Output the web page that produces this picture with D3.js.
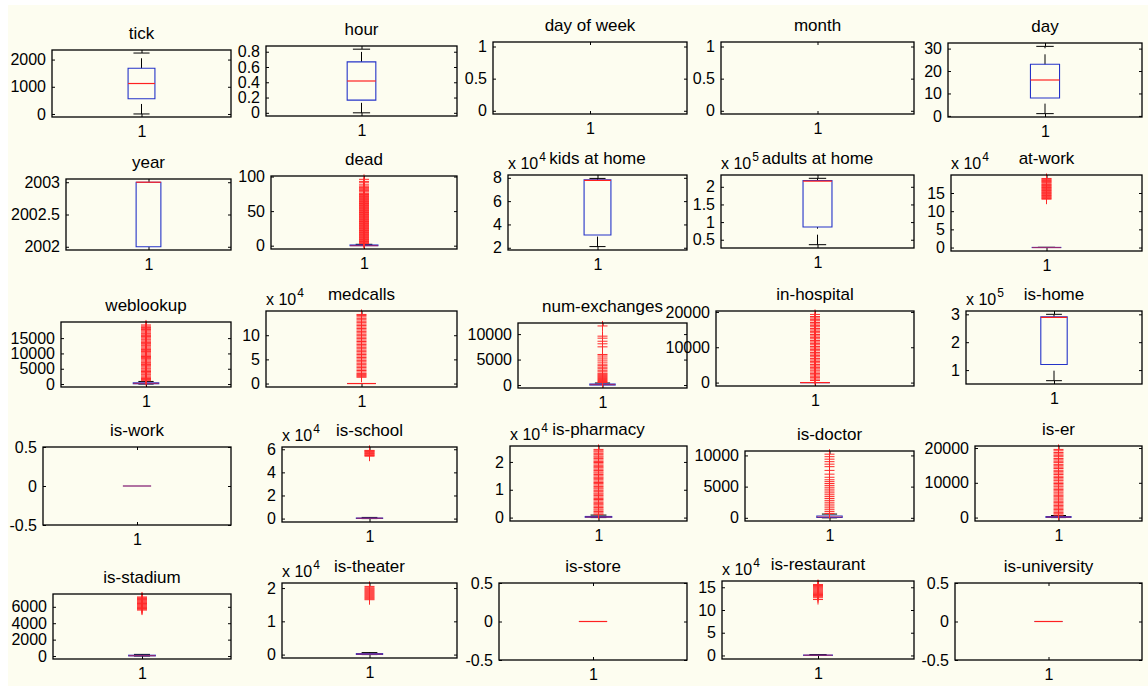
<!DOCTYPE html>
<html>
<head>
<meta charset="utf-8">
<script src="https://cdn.jsdelivr.net/npm/d3@7"></script>
<style>
  html, body { margin: 0; padding: 0; background: #ffffff; }
  svg { display: block; }
</style>
</head>
<body>
<svg id="fig" width="1148" height="686"></svg>
<script>
// ---- data: one boxplot per variable ------------------------------------
const panelTitles = [
  "tick", "hour", "day of week", "month", "day",
  "year", "dead", "kids at home", "adults at home", "at-work",
  "weblookup", "medcalls", "num-exchanges", "in-hospital", "is-home",
  "is-work", "is-school", "is-pharmacy", "is-doctor", "is-er",
  "is-stadium", "is-theater", "is-store", "is-restaurant", "is-university"
];

// power of ten shown as "x 10^n" above the y axis (0 = none)
const yExponents = [
  0, 0, 0, 0, 0,
  0, 0, 4, 5, 4,
  0, 4, 0, 0, 5,
  0, 4, 4, 0, 0,
  0, 4, 0, 4, 0
];

const lowerWhiskers = [
  1, 0, null, null, 1,
  2002, 0, 21000, 36000, 0,
  0, 0, 0, 0, 62000,
  0, 0, 0, 0, 0,
  0, 0, 0, 0, 0
];
const firstQuartiles = [
  560, 0.1667, null, null, 8,
  2002, 0, 31000, 86000, 0,
  100, 0, 0, 0, 120000,
  0, 100, 100, 50, 50,
  20, 50, 0, 200, 0
];
const medians = [
  1120, 0.4167, null, null, 16,
  2003, 0, 77800, 216000, 0,
  200, 0, 100, 0, 289000,
  0, 300, 200, 150, 150,
  50, 150, 0, 500, 0
];
const thirdQuartiles = [
  1680, 0.6667, null, null, 23,
  2003, 1, 78200, 218000, 300,
  400, 0, 200, 0, 291000,
  0, 500, 400, 300, 300,
  100, 300, 0, 900, 0
];
const upperWhiskers = [
  2240, 0.8333, null, null, 31,
  2003, 2, 79500, 224000, 700,
  850, 0, 400, 0, 300000,
  0, 1000, 900, 600, 600,
  200, 600, 0, 2000, 0
];

const deadOutliers = [3, 4, 5, 6, 7, 8, 9, 10, 11, 12, 13, 14, 15, 16, 17, 18, 19, 20, 21, 22, 23, 24, 25, 26, 27, 28, 29, 30, 31, 32, 33, 34, 35, 36, 37, 38, 39, 40, 41, 42, 43, 44, 45, 46, 47, 48, 49, 50, 51, 52, 53, 54, 55, 56, 57, 58, 59, 60, 61, 62, 63, 64, 65, 66, 67, 68, 69, 70, 71, 72, 73, 74, 75, 76, 78, 80, 81, 83, 84, 86, 88, 91, 93, 96];
const atWorkOutliers = [133000, 135000, 137000, 139000, 141000, 143000, 145000, 147000, 149000, 151000, 153000, 155000, 157000, 159000, 161000, 163000, 165000, 167000, 169000, 171000, 173000, 175000, 178000, 180000, 182000, 184000, 186000, 188000, 190000];
const weblookupOutliers = [1100, 1500, 1800, 2200, 2600, 3000, 3300, 3700, 4100, 4500, 4900, 5200, 5600, 6000, 6400, 6800, 7100, 7500, 7900, 8300, 8700, 9000, 9400, 9800, 10200, 10600, 10900, 11300, 11700, 12100, 12500, 12800, 13200, 13600, 14000, 14400, 14700, 15100, 15500, 15900, 16300, 16600, 17000, 17400, 17800, 18200, 18500, 18900, 19300];
const medcallsOutliers = [13000, 15000, 17000, 19000, 21000, 24000, 27000, 30000, 33000, 36000, 39000, 42000, 45000, 48000, 51000, 54000, 57000, 60000, 63000, 66000, 69000, 72000, 75000, 78000, 81000, 84000, 87000, 90000, 93000, 96000, 99000, 102000, 105000, 108000, 111000, 114000, 117000, 120000, 123000, 126000, 129000, 132000, 135000, 138000, 141000, 143000];
const exchangesOutliers = [500, 700, 900, 1100, 1300, 1500, 1700, 1900, 2100, 2300, 2600, 2900, 3200, 3500, 3800, 4100, 4500, 4900, 5300, 5700, 6000, 7500, 8100, 8600, 9200, 9600, 11600];
const hospitalOutliers = [600, 1000, 1400, 1800, 2200, 2600, 3000, 3500, 3900, 4300, 4700, 5100, 5600, 6000, 6400, 6800, 7300, 7700, 8100, 8500, 9000, 9400, 9800, 10200, 10700, 11100, 11500, 11900, 12400, 12800, 13200, 13600, 14100, 14500, 14900, 15300, 15800, 16200, 16600, 17000, 17500, 17900, 18300, 18700, 19300];
const schoolOutliers = [54000, 54600, 55200, 55800, 56400, 57000, 57600, 58200, 58600, 59000];
const pharmacyOutliers = [1200, 1700, 2200, 2700, 3100, 3600, 4100, 4600, 5000, 5500, 6000, 6500, 6900, 7400, 7900, 8400, 8800, 9300, 9800, 10300, 10700, 11200, 11700, 12200, 12600, 13100, 13600, 14100, 14500, 15000, 15500, 16000, 16400, 16900, 17400, 17900, 18300, 18800, 19300, 19800, 20200, 20700, 21200, 21700, 22100, 22600, 23100, 23600, 24000, 24500];
const doctorOutliers = [700, 1000, 1300, 1600, 1900, 2200, 2500, 2800, 3100, 3400, 3700, 4000, 4300, 4600, 4900, 5200, 5500, 5800, 6100, 6500, 7000, 7600, 8200, 8600, 9000, 9400, 9800, 10200];
const erOutliers = [700, 1100, 1500, 1900, 2300, 2700, 3100, 3500, 3900, 4300, 4700, 5100, 5600, 6000, 6400, 6800, 7300, 7700, 8100, 8500, 9000, 9400, 9800, 10200, 10700, 11100, 11500, 11900, 12400, 12800, 13200, 13600, 14100, 14500, 14900, 15300, 15800, 16200, 16600, 17000, 17500, 17900, 18300, 18700, 19200, 19600];
const stadiumOutliers = [5600, 5700, 5800, 5900, 6000, 6100, 6200, 6300, 6400, 6500, 6600, 6700, 6800, 6900, 7000, 7100, 7200];
const theaterOutliers = [16500, 16800, 17100, 17400, 17700, 18000, 18300, 18600, 18900, 19200, 19500, 19800, 20100, 20500];
const restaurantOutliers = [123000, 127000, 130000, 132000, 134000, 136000, 138000, 140000, 142000, 144000, 146000, 148000, 150000, 152000, 154000, 156000];

const outlierValues = [
  [], [], [], [], [],
  [], deadOutliers, [], [], atWorkOutliers,
  weblookupOutliers, medcallsOutliers, exchangesOutliers, hospitalOutliers, [],
  [], schoolOutliers, pharmacyOutliers, doctorOutliers, erOutliers,
  stadiumOutliers, theaterOutliers, [], restaurantOutliers, []
];

// y tick labels, in the units printed on the axis
const yTicks = [
  [0, 1000, 2000], [0, 0.2, 0.4, 0.6, 0.8], [0, 0.5, 1], [0, 0.5, 1], [0, 10, 20, 30],
  [2002, 2002.5, 2003], [0, 50, 100], [2, 4, 6, 8], [0.5, 1, 1.5, 2], [0, 5, 10, 15],
  [0, 5000, 10000, 15000], [0, 5, 10], [0, 5000, 10000], [0, 10000, 20000], [1, 2, 3],
  [-0.5, 0, 0.5], [0, 2, 4, 6], [0, 1, 2], [0, 5000, 10000], [0, 10000, 20000],
  [0, 2000, 4000, 6000], [0, 1, 2], [-0.5, 0, 0.5], [0, 5, 10, 15], [-0.5, 0, 0.5]
];
const xTickLabels = [1];

// ---- layout: plot-box edges [left, right, top, bottom] in pixels ----------
const panelFrames = [
  [52, 231, 50, 117], [266, 457, 46, 116], [493, 687, 42, 114], [721, 914, 42, 114], [948, 1142, 43, 117],
  [66, 231, 179, 250], [271, 457, 176, 249], [508, 687, 175, 250], [721, 914, 175, 248], [951, 1142, 175, 251],
  [61, 231, 322, 387], [266, 457, 311, 387], [518, 687, 323, 388], [716, 914, 311, 386], [966, 1142, 311, 384],
  [43, 231, 447, 525], [282, 457, 447, 522], [510, 687, 446, 521], [745, 914, 451, 521], [975, 1142, 446, 521],
  [53, 231, 594, 659], [282, 457, 583, 658], [499, 687, 583, 660], [722, 914, 581, 659], [955, 1142, 583, 660]
];

const FONT = "'Liberation Sans', Arial, Helvetica, sans-serif";
const IVORY = "#fdfdf0";
const BOX_BLUE = "#2433c8";
const MEDIAN_RED = "#ff2020";
const OUTLIER_RED = "#ff2a2a";
// panels whose flat box shows the blue outline blended through the median
const blendedMedianPanels = new Set(["is-work"]);

const svg = d3.select("#fig").attr("font-family", FONT);
svg.append("rect").attr("width", 1148).attr("height", 686).attr("fill", "#ffffff");
svg.append("rect").attr("x", 8).attr("y", 5).attr("width", 1140).attr("height", 681).attr("fill", IVORY);

function styleAxis(sel, fontSize) {
  sel.attr("font-family", FONT).attr("font-size", fontSize);
  sel.select(".domain").remove();
  sel.selectAll(".tick line").attr("stroke", "#000").attr("stroke-width", 1);
  sel.selectAll(".tick text").attr("fill", "#000");
}

panelTitles.forEach((title, i) => {
  const [left, right, top, bottom] = panelFrames[i];
  const g = svg.append("g").attr("class", "panel");
  const hasBox = medians[i] !== null;

  // y limits: data range padded by 5%, unit span for constant data
  let domain;
  if (!hasBox) {
    domain = [-0.05, 1.07];
  } else {
    const all = [lowerWhiskers[i], upperWhiskers[i], ...outlierValues[i]];
    const lo = d3.min(all), hi = d3.max(all), r = hi - lo;
    domain = r > 0 ? [lo - 0.05 * r, hi + 0.05 * r] : [lo - 0.5, hi + 0.5];
  }
  const y = d3.scaleLinear().domain(domain).range([bottom, top]);
  const x = d3.scaleLinear().domain([0.5, 1.5]).range([left, right]);

  const mult = Math.pow(10, yExponents[i]);
  const tickVals = yTicks[i].map(t => t * mult);
  const fmt = v => String(+(v / mult).toFixed(6));

  // axes with inward ticks on all four sides
  g.append("g").attr("transform", `translate(${left},0)`)
    .call(d3.axisLeft(y).tickValues(tickVals).tickSize(-3).tickSizeOuter(0).tickPadding(6).tickFormat(fmt))
    .call(s => styleAxis(s, 16));
  g.append("g").attr("transform", `translate(${right},0)`)
    .call(d3.axisRight(y).tickValues(tickVals).tickSize(-3).tickSizeOuter(0).tickFormat(() => ""))
    .call(s => styleAxis(s, 16));
  g.append("g").attr("transform", `translate(0,${bottom})`)
    .call(d3.axisBottom(x).tickValues(xTickLabels).tickSize(-3).tickSizeOuter(0).tickPadding(9).tickFormat(d3.format("d")))
    .call(s => styleAxis(s, 16));
  g.append("g").attr("transform", `translate(0,${top})`)
    .call(d3.axisTop(x).tickValues(xTickLabels).tickSize(-3).tickSizeOuter(0).tickFormat(() => ""))
    .call(s => styleAxis(s, 16));

  // box plot
  if (hasBox) {
    const cx = x(1);
    const bw = x(1.075) - x(0.925);
    const cw = 0.6 * bw;
    const q1 = firstQuartiles[i], q3 = thirdQuartiles[i];
    const lw = lowerWhiskers[i], uw = upperWhiskers[i], med = medians[i];

    // dashed whiskers, each drawn from its lower end upward; caps only
    // where the whisker actually reaches beyond the box
    if (uw > q3) {
      g.append("line").attr("x1", cx).attr("x2", cx).attr("y1", y(q3)).attr("y2", y(uw))
        .attr("stroke", "#000").attr("stroke-width", 1).attr("stroke-dasharray", "10,6");
      g.append("line").attr("x1", cx - cw / 2).attr("x2", cx + cw / 2).attr("y1", y(uw)).attr("y2", y(uw))
        .attr("stroke", "#000").attr("stroke-width", 1);
    }
    if (lw < q1) {
      g.append("line").attr("x1", cx).attr("x2", cx).attr("y1", y(lw)).attr("y2", y(q1))
        .attr("stroke", "#000").attr("stroke-width", 1).attr("stroke-dasharray", "10,6");
      g.append("line").attr("x1", cx - cw / 2).attr("x2", cx + cw / 2).attr("y1", y(lw)).attr("y2", y(lw))
        .attr("stroke", "#000").attr("stroke-width", 1);
    }

    // box outline as a closed path so a flat box still shows as a line
    const yq1 = y(q1), yq3 = y(q3), boxH = yq1 - yq3;
    g.append("path")
      .attr("d", `M${cx - bw / 2},${yq3}H${cx + bw / 2}V${yq1}H${cx - bw / 2}Z`)
      .attr("fill", "none").attr("stroke", BOX_BLUE).attr("stroke-width", 1.1);
    const blended = (boxH > 0 && boxH < 2) || blendedMedianPanels.has(title);
    g.append("line").attr("x1", cx - bw / 2).attr("x2", cx + bw / 2).attr("y1", y(med)).attr("y2", y(med))
      .attr("stroke", MEDIAN_RED).attr("stroke-width", 1.2)
      .attr("stroke-opacity", blended ? 0.5 : 1);

    g.append("g").selectAll("path").data(outlierValues[i]).join("path")
      .attr("d", v => { const yy = y(v); return `M${cx - 5},${yy}H${cx + 5}M${cx},${yy - 5}V${yy + 5}`; })
      .attr("fill", "none").attr("stroke", OUTLIER_RED).attr("stroke-width", 1);
  }

  // plot frame
  g.append("rect").attr("x", left).attr("y", top).attr("width", right - left).attr("height", bottom - top)
    .attr("fill", "none").attr("stroke", "#000").attr("stroke-width", 1.3);

  // title
  g.append("text").attr("x", (left + right) / 2).attr("y", top - 11.5)
    .attr("text-anchor", "middle").attr("font-size", 17).attr("fill", "#000").text(title);

  // axis multiplier label
  if (yExponents[i] > 0) {
    const base = g.append("text").attr("x", left).attr("y", top - 6.5)
      .attr("font-size", 16).attr("fill", "#000").text("x 10");
    const w = base.node().getComputedTextLength();
    g.append("text").attr("x", left + w + 1).attr("y", top - 14)
      .attr("font-size", 12).attr("fill", "#000").text(String(yExponents[i]));
  }
});
</script>
</body>
</html>
